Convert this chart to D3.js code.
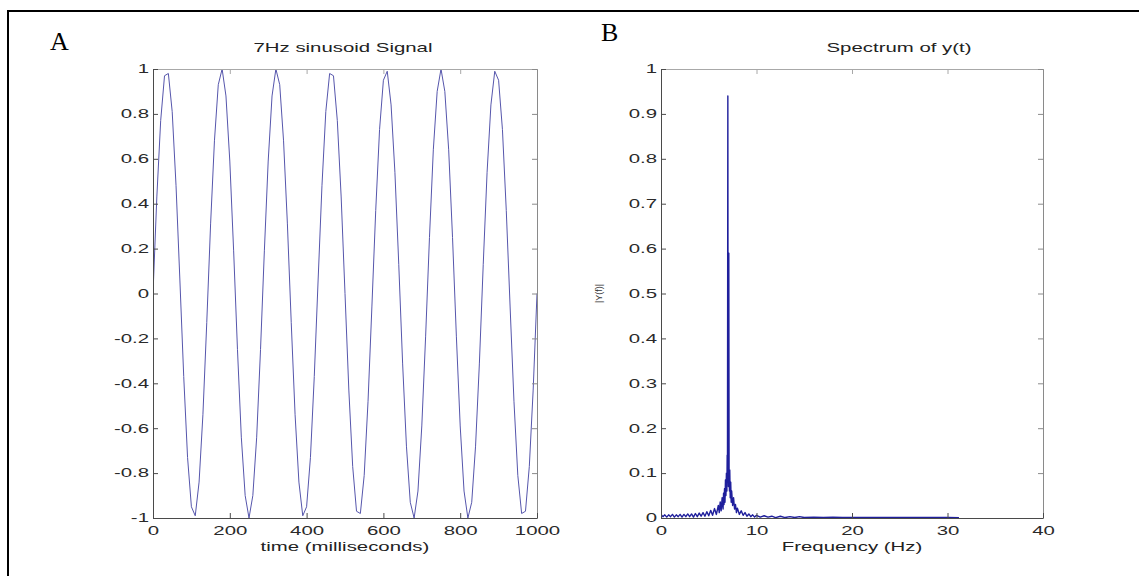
<!DOCTYPE html>
<html>
<head>
<meta charset="utf-8">
<script src="https://cdn.jsdelivr.net/npm/d3@7"></script>
<style>
  body { margin: 0; background: #fff; }
  #canvas { width: 1139px; height: 576px; }
</style>
</head>
<body>
<div id="canvas"></div>
<script>
// panel A: 7 Hz sinusoid, one sample every 10 ms from 0 to 1000 ms
const sineStepMs = 10;
const sineValues = [
  0, 0.43, 0.77, 0.97, 0.98, 0.81, 0.48, 0.06, -0.37, -0.73,
  -0.95, -0.99, -0.84, -0.54, -0.13, 0.31, 0.68, 0.93, 1.00, 0.88,
  0.59, 0.19, -0.25, -0.64, -0.90, -1.00, -0.90, -0.64, -0.25, 0.19,
  0.59, 0.88, 1.00, 0.93, 0.68, 0.31, -0.13, -0.54, -0.84, -0.99,
  -0.95, -0.73, -0.37, 0.06, 0.48, 0.81, 0.98, 0.97, 0.77, 0.43,
  0, -0.43, -0.77, -0.97, -0.98, -0.81, -0.48, -0.06, 0.37, 0.73,
  0.95, 0.99, 0.84, 0.54, 0.13, -0.31, -0.68, -0.93, -1.00, -0.88,
  -0.59, -0.19, 0.25, 0.64, 0.90, 1.00, 0.90, 0.64, 0.25, -0.19,
  -0.59, -0.88, -1.00, -0.93, -0.68, -0.31, 0.13, 0.54, 0.84, 0.99,
  0.95, 0.73, 0.37, -0.06, -0.48, -0.81, -0.98, -0.97, -0.77, -0.43,
  0
];
const sineXTicks = [0, 200, 400, 600, 800, 1000];
const sineYTicks = [-1, -0.8, -0.6, -0.4, -0.2, 0, 0.2, 0.4, 0.6, 0.8, 1];

// panel B: |Y(f)|, [frequency Hz, magnitude]
const spectrum = [
  [0, 0.008], [0.2, 0.003], [0.4, 0.007], [0.6, 0.002], [0.8, 0.007], [1.0, 0.003],
  [1.2, 0.008], [1.4, 0.002], [1.6, 0.007], [1.8, 0.003], [2.0, 0.008], [2.2, 0.002],
  [2.4, 0.008], [2.6, 0.003], [2.8, 0.009], [3.0, 0.003], [3.2, 0.009], [3.4, 0.002],
  [3.6, 0.010], [3.8, 0.003], [4.0, 0.011], [4.2, 0.004], [4.4, 0.012], [4.6, 0.004],
  [4.8, 0.014], [5.0, 0.005], [5.2, 0.017], [5.4, 0.006], [5.6, 0.021], [5.8, 0.008],
  [6.0, 0.028], [6.1, 0.012], [6.2, 0.036], [6.3, 0.016], [6.4, 0.045], [6.5, 0.020],
  [6.55, 0.055], [6.6, 0.030], [6.65, 0.065], [6.7, 0.035], [6.75, 0.085], [6.8, 0.050],
  [6.85, 0.100], [6.9, 0.060], [6.93, 0.140], [6.96, 0.090], [7.0, 0.940], [7.03, 0.120],
  [7.06, 0.070], [7.1, 0.590], [7.13, 0.100], [7.17, 0.060], [7.2, 0.107], [7.25, 0.045],
  [7.3, 0.080], [7.35, 0.035], [7.4, 0.060], [7.5, 0.028], [7.6, 0.045], [7.7, 0.020],
  [7.8, 0.030], [7.9, 0.012], [8.0, 0.022], [8.2, 0.008], [8.4, 0.016], [8.6, 0.006],
  [8.8, 0.012], [9.0, 0.004], [9.2, 0.009], [9.4, 0.003], [9.6, 0.007], [9.8, 0.002],
  [10, 0.006], [10.4, 0.002], [10.8, 0.005], [11.2, 0.002], [11.6, 0.004], [12, 0.001],
  [12.5, 0.004], [13, 0.001], [13.5, 0.003], [14, 0.001], [14.5, 0.003], [15, 0.001],
  [16, 0.002], [17, 0.001], [18, 0.002], [19, 0.001], [20, 0.0015], [22, 0.001],
  [24, 0.0015], [26, 0.001], [28, 0.001], [30, 0.001], [31.2, 0.0005]
];
const specXTicks = [0, 10, 20, 30, 40];
const specYTicks = [0, 0.1, 0.2, 0.3, 0.4, 0.5, 0.6, 0.7, 0.8, 0.9, 1];

const W = 1139, H = 576;
const FONT = "'Liberation Sans', Arial, Helvetica, sans-serif";
const SX = 1.7; // the whole figure is stretched sideways

let svg = d3.select("#canvas").append("svg")
  .attr("width", W)
  .attr("height", H)
  .attr("viewBox", "0 0 " + W + " " + H);

svg.append("rect").attr("width", W).attr("height", H).attr("fill", "#fff");

// page frame (top and left edge only)
svg.append("path")
  .attr("d", "M8,576V11H1139")
  .attr("fill", "none")
  .attr("stroke", "#000")
  .attr("stroke-width", 2);

// widen text sideways, keeping its anchor point where it is
function stretch(sel, sx) {
  sel.each(function() {
    let t = d3.select(this);
    let x = +t.attr("x") || 0;
    t.attr("transform", "translate(" + x + ",0) scale(" + sx + ",1) translate(" + (-x) + ",0)");
  });
}

function styleAxis(a, color) {
  a.select(".domain").attr("stroke", color);
  a.selectAll(".tick line").attr("stroke", color);
  a.selectAll("text")
    .attr("font-family", FONT)
    .attr("font-size", "12px")
    .attr("fill", "#2a2a2a");
  stretch(a.selectAll("text"), SX);
}

function drawPanel(p) {
  let x = d3.scaleLinear().domain(p.xDomain).range([p.left, p.right]);
  let y = d3.scaleLinear().domain(p.yDomain).range([p.bottom, p.top]);
  let fmt = d => String(d);
  let g = svg.append("g");

  // clip for the data line
  g.append("clipPath").attr("id", p.id + "-clip")
    .append("rect")
    .attr("x", p.left).attr("y", p.top - 1)
    .attr("width", p.right - p.left).attr("height", p.bottom - p.top + 2);

  // data
  g.append("path")
    .datum(p.data)
    .attr("clip-path", "url(#" + p.id + "-clip)")
    .attr("fill", "none")
    .attr("stroke", p.color)
    .attr("stroke-width", p.lineWidth)
    .attr("stroke-linejoin", "round")
    .attr("d", d3.line().x(d => x(d[0])).y(d => y(d[1])));

  // box: top and right lighter, like the picture
  let top = g.append("g").attr("transform", "translate(0," + p.top + ")")
    .call(d3.axisTop(x).tickValues(p.xTicks).tickSizeInner(-5).tickSizeOuter(0).tickFormat(""));
  styleAxis(top, "#a8a8a8");
  let right = g.append("g").attr("transform", "translate(" + p.right + ",0)")
    .call(d3.axisRight(y).tickValues(p.yTicks).tickSizeInner(-5).tickSizeOuter(0).tickFormat(""));
  styleAxis(right, "#8a8a8a");

  let bottom = g.append("g").attr("transform", "translate(0," + p.bottom + ")")
    .call(d3.axisBottom(x).tickValues(p.xTicks).tickSizeInner(-5).tickSizeOuter(0).tickPadding(8).tickFormat(fmt));
  styleAxis(bottom, "#4a4a4a");
  let left = g.append("g").attr("transform", "translate(" + p.left + ",0)")
    .call(d3.axisLeft(y).tickValues(p.yTicks).tickSizeInner(-5).tickSizeOuter(0).tickPadding(4).tickFormat(fmt));
  styleAxis(left, "#4a4a4a");

  // title
  let title = g.append("text")
    .attr("x", p.titleX).attr("y", p.top - 17)
    .attr("text-anchor", "middle")
    .attr("font-family", FONT).attr("font-size", "12px").attr("fill", "#222")
    .text(p.title);
  stretch(title, SX);

  // x label
  let xl = g.append("text")
    .attr("x", (p.left + p.right) / 2).attr("y", p.bottom + 33)
    .attr("text-anchor", "middle")
    .attr("font-family", FONT).attr("font-size", "12px").attr("fill", "#222")
    .text(p.xLabel);
  stretch(xl, SX);

  if (p.yLabel) {
    g.append("text")
      .attr("transform", "translate(" + (p.left - 59) + "," + ((p.top + p.bottom) / 2) + ") rotate(-90)")
      .attr("text-anchor", "middle")
      .attr("font-family", FONT).attr("font-size", "9px").attr("fill", "#333")
      .text(p.yLabel);
  }

  // panel letter
  g.append("text")
    .attr("x", p.letterX).attr("y", p.letterY)
    .attr("font-family", "'Liberation Serif', 'Times New Roman', serif")
    .attr("font-size", "26px").attr("fill", "#000")
    .text(p.letter);
}

drawPanel({
  id: "a",
  left: 153, right: 537, top: 69, bottom: 518,
  xDomain: [0, 1000], yDomain: [-1, 1],
  xTicks: sineXTicks, yTicks: sineYTicks,
  data: sineValues.map((v, i) => [i * sineStepMs, v]),
  color: "#5656ac", lineWidth: 1,
  title: "7Hz sinusoid Signal", titleX: 343,
  xLabel: "time (milliseconds)",
  letter: "A", letterX: 50, letterY: 50
});

drawPanel({
  id: "b",
  left: 661, right: 1043, top: 69, bottom: 518,
  xDomain: [0, 40], yDomain: [0, 1],
  xTicks: specXTicks, yTicks: specYTicks,
  data: spectrum,
  color: "#1f1f9c", lineWidth: 1.4,
  title: "Spectrum of y(t)", titleX: 899,
  xLabel: "Frequency (Hz)", yLabel: "|Y(f)|",
  letter: "B", letterX: 601, letterY: 41
});
</script>
</body>
</html>
